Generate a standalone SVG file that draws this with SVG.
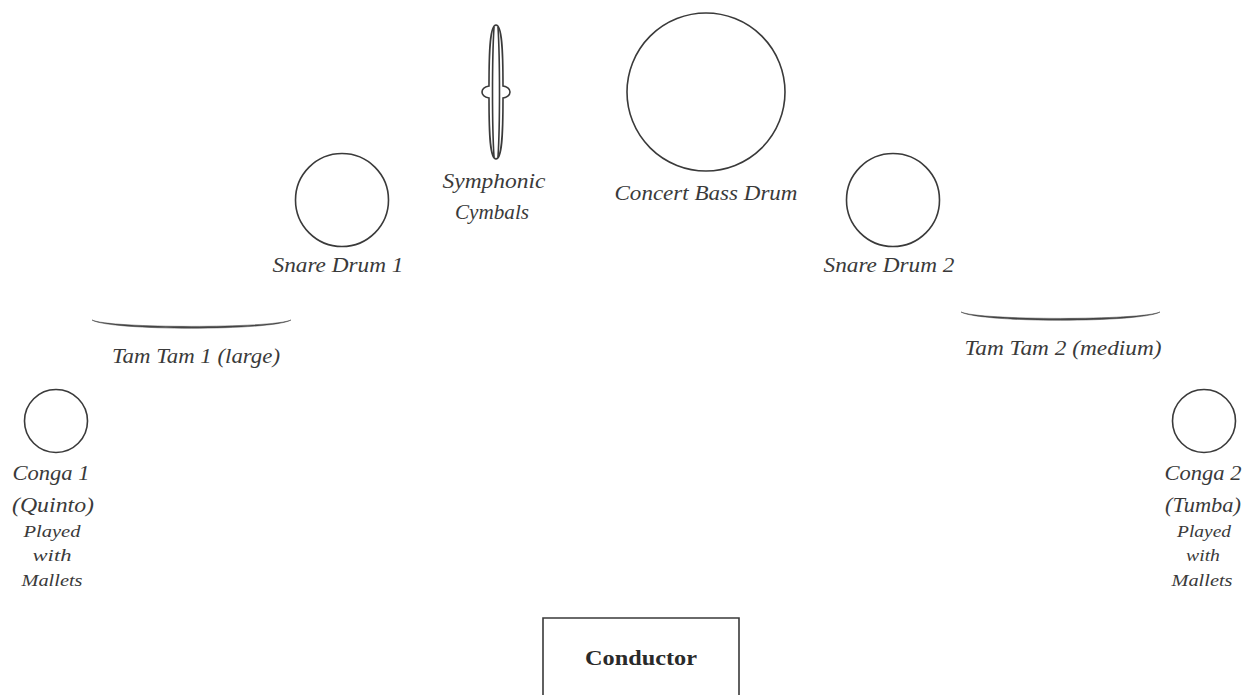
<svg xmlns="http://www.w3.org/2000/svg" width="1251" height="695" viewBox="0 0 1251 695">
<style>
.ol{fill:none;stroke:#3a3a3a;stroke-width:1.6}
.tt{fill:#444;stroke:#444;stroke-width:0.5}
.lb{font-family:"Liberation Serif","DejaVu Serif",serif;font-style:italic;font-size:20px;fill:#3a3a3a;text-anchor:middle}
.sm{font-size:17px}
.bd{font-family:"Liberation Serif","DejaVu Serif",serif;font-weight:bold;font-size:20px;fill:#2a2a2a;text-anchor:middle}
</style>
<rect width="1251" height="695" fill="#fff"/>
<g id="cymbals">
<path class="ol" stroke-width="1.3" d="M496,25 C490,25 489,50 489,86 C484,87 482,89 482,92 C482,95 484,97 489,98 C489,135 490,159 496,159 C502,159 503,135 503,98 C508,97 510,95 510,92 C510,89 508,87 503,86 C503,50 502,25 496,25 Z"/>
<path class="ol" stroke-width="1.1" d="M494,27 C492,60 492,125 494,157 M498,27 C500,60 500,125 498,157"/>
<text class="lb" x="494" y="188" textLength="103" lengthAdjust="spacingAndGlyphs">Symphonic</text>
<text class="lb" x="492" y="219" textLength="74" lengthAdjust="spacingAndGlyphs">Cymbals</text>
</g>
<g id="bass-drum">
<circle class="ol" cx="706" cy="92" r="79"/>
<text class="lb" x="706" y="200" textLength="183" lengthAdjust="spacingAndGlyphs">Concert Bass Drum</text>
</g>
<g id="snare-1">
<circle class="ol" cx="342" cy="200" r="46.5"/>
<text class="lb" x="338" y="272" textLength="131" lengthAdjust="spacingAndGlyphs">Snare Drum 1</text>
</g>
<g id="snare-2">
<circle class="ol" cx="893" cy="200" r="46.5"/>
<text class="lb" x="889" y="272" textLength="131" lengthAdjust="spacingAndGlyphs">Snare Drum 2</text>
</g>
<g id="tam-tam-1">
<path class="tt" d="M92,320 C110,331 272,331 291,320 C272,328.5 110,328.5 92,320 Z"/>
<text class="lb" x="196" y="363" textLength="168" lengthAdjust="spacingAndGlyphs">Tam Tam 1 (large)</text>
</g>
<g id="tam-tam-2">
<path class="tt" d="M961,312 C980,323 1141,323 1160,312 C1141,320.5 980,320.5 961,312 Z"/>
<text class="lb" x="1063" y="355" textLength="197" lengthAdjust="spacingAndGlyphs">Tam Tam 2 (medium)</text>
</g>
<g id="conga-1">
<circle class="ol" cx="56" cy="421" r="31.5"/>
<text class="lb" x="51" y="480" textLength="77" lengthAdjust="spacingAndGlyphs">Conga 1</text>
<text class="lb" x="53" y="512" textLength="82" lengthAdjust="spacingAndGlyphs">(Quinto)</text>
<text class="lb sm" x="52" y="537" textLength="57" lengthAdjust="spacingAndGlyphs">Played</text>
<text class="lb sm" x="52" y="561" textLength="39" lengthAdjust="spacingAndGlyphs">with</text>
<text class="lb sm" x="52" y="586" textLength="61" lengthAdjust="spacingAndGlyphs">Mallets</text>
</g>
<g id="conga-2">
<circle class="ol" cx="1204" cy="421" r="31.5"/>
<text class="lb" x="1203" y="480" textLength="77" lengthAdjust="spacingAndGlyphs">Conga 2</text>
<text class="lb" x="1203" y="512" textLength="76" lengthAdjust="spacingAndGlyphs">(Tumba)</text>
<text class="lb sm" x="1204" y="537" textLength="54" lengthAdjust="spacingAndGlyphs">Played</text>
<text class="lb sm" x="1203" y="561" textLength="34" lengthAdjust="spacingAndGlyphs">with</text>
<text class="lb sm" x="1202" y="586" textLength="61" lengthAdjust="spacingAndGlyphs">Mallets</text>
</g>
<g id="conductor">
<path class="ol" stroke-width="1.8" d="M543,697 V618 H739 V697"/>
<text class="bd" x="641" y="665" textLength="112" lengthAdjust="spacingAndGlyphs">Conductor</text>
</g>
<g id="connectors"></g>
</svg>
